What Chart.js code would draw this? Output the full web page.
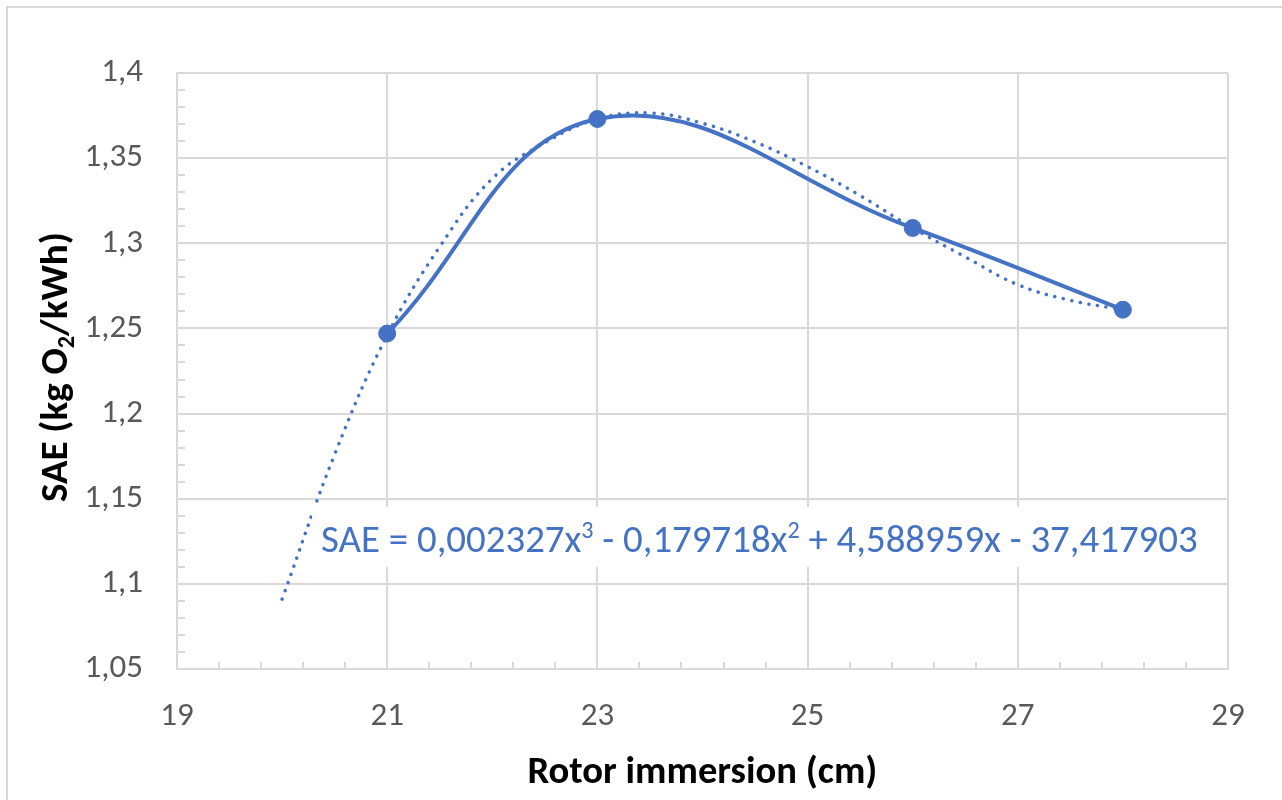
<!DOCTYPE html>
<html>
<head>
<meta charset="utf-8">
<title>SAE vs Rotor immersion</title>
<script src="https://cdn.jsdelivr.net/npm/chart.js"></script>
<style>
  html, body { margin: 0; padding: 0; background: #fff; overflow: hidden; }
  #marco { position: absolute; left: 6px; top: 6px; width: 1300px; height: 820px; border: 2px solid #d9d9d9; box-sizing: border-box; }
  #contenedor { position: absolute; left: 0; top: 0; width: 1282px; height: 800px; }
</style>
</head>
<body>
<div id="marco"></div>
<div id="contenedor"><canvas id="chart" width="1282" height="800"></canvas></div>
<script>
// Datos medidos
const inmersion = [21, 23, 26, 28];
const sae = [1.247, 1.373, 1.309, 1.261];

// Linea de tendencia (polinomica)
const tendenciaX = [20, 20.5, 21, 21.5, 22, 22.5, 23, 23.5, 24, 24.5, 25, 25.5, 26, 26.5, 27, 27.5, 28];
const tendenciaY = [1.091, 1.176, 1.246, 1.298, 1.338, 1.359, 1.373, 1.3765, 1.3705, 1.3595, 1.345, 1.328, 1.309, 1.292, 1.2757, 1.2665, 1.261];

// Ticks
const xTicks = [19, 21, 23, 25, 27, 29];
const yTicks = [1.05, 1.1, 1.15, 1.2, 1.25, 1.3, 1.35, 1.4];

const azul = "#4472C4";
const gris = "#d9d9d9";
const fuente = "Carlito, Lato, 'Open Sans', sans-serif";

function coma(v) {
  return Number(v.toFixed(2)).toString().replace(".", ",");
}

// dibuja trozos de texto (normal / sup / sub) desde x
function dibujarTrozos(ctx, trozos, x, y, size, weight) {
  let cx = x;
  trozos.forEach(([txt, tipo]) => {
    let s = size, dy = 0;
    if (tipo === "sup") { s = size * 0.62; dy = -size * 0.36; }
    if (tipo === "sub") { s = size * 0.62; dy = size * 0.18; }
    ctx.font = `${weight} ${s}px ${fuente}`;
    ctx.fillText(txt, cx, y + dy);
    cx += ctx.measureText(txt).width;
  });
}

function anchoTrozos(ctx, trozos, size, weight) {
  let w = 0;
  trozos.forEach(([txt, tipo]) => {
    const s = tipo ? size * 0.62 : size;
    ctx.font = `${weight} ${s}px ${fuente}`;
    w += ctx.measureText(txt).width;
  });
  return w;
}

// tamaño de letra para ocupar un ancho dado
function ajustar(ctx, trozos, ancho, weight) {
  const w = anchoTrozos(ctx, trozos, 30, weight);
  return 30 * ancho / w;
}

const decoracion = {
  id: "decoracion",
  beforeDatasetsDraw(chart) {
    const { ctx, chartArea, scales } = chart;
    ctx.save();
    ctx.strokeStyle = gris;
    ctx.lineWidth = 2;
    // marcas menores del eje x (cada 0,4)
    for (let v = 19; v <= 29 + 1e-9; v += 0.4) {
      const px = Math.round(scales.x.getPixelForValue(v));
      ctx.beginPath();
      ctx.moveTo(px, chartArea.bottom);
      ctx.lineTo(px, chartArea.bottom - 7);
      ctx.stroke();
    }
    // marcas menores del eje y (cada 0,01)
    for (let v = 1.05; v <= 1.4 + 1e-9; v += 0.01) {
      const py = Math.round(scales.y.getPixelForValue(v));
      ctx.beginPath();
      ctx.moveTo(chartArea.left, py);
      ctx.lineTo(chartArea.left + 8, py);
      ctx.stroke();
    }
    ctx.restore();
  },
  afterDraw(chart) {
    const { ctx, chartArea } = chart;
    ctx.save();

    // ecuacion de la tendencia
    ctx.fillStyle = "#fff";
    ctx.fillRect(312, 507, 898, 60);
    const ecuacion = [
      ["SAE = 0,002327x", ""], ["3", "sup"],
      [" - 0,179718x", ""], ["2", "sup"],
      [" + 4,588959x - 37,417903", ""]
    ];
    const se = ajustar(ctx, ecuacion, 877, "normal");
    ctx.fillStyle = azul;
    ctx.textBaseline = "alphabetic";
    ctx.textAlign = "left";
    dibujarTrozos(ctx, ecuacion, 321, 552, se, "normal");

    // titulo eje x
    ctx.fillStyle = "#000";
    const tx = [["Rotor immersion (cm)", ""]];
    const sx = ajustar(ctx, tx, 350, "bold");
    const centroX = (chartArea.left + chartArea.right) / 2;
    dibujarTrozos(ctx, tx, centroX - 175, 783, sx, "bold");

    // titulo eje y
    const ty = [["SAE (kg O", ""], ["2", "sub"], ["/kWh)", ""]];
    const sy = ajustar(ctx, ty, 270, "bold");
    ctx.translate(67, 367);
    ctx.rotate(-Math.PI / 2);
    dibujarTrozos(ctx, ty, -135, 0, sy, "bold");

    ctx.restore();
  }
};

const ctx = document.getElementById("chart").getContext("2d");

new Chart(ctx, {
  type: "scatter",
  data: {
    datasets: [
      {
        label: "SAE",
        data: inmersion.map((x, i) => ({ x: x, y: sae[i] })),
        showLine: true,
        borderColor: azul,
        borderWidth: 4,
        backgroundColor: azul,
        pointRadius: 8.5,
        pointBorderWidth: 1,
        pointBackgroundColor: azul,
        pointBorderColor: azul,
        tension: 0.4,
        order: 0
      },
      {
        label: "Poly. (SAE)",
        data: tendenciaX.map((x, i) => ({ x: x, y: tendenciaY[i] })),
        showLine: true,
        borderColor: azul,
        borderWidth: 3.5,
        borderDash: [0.1, 8.6],
        borderCapStyle: "round",
        pointRadius: 0,
        tension: 0.4,
        order: 1
      }
    ]
  },
  options: {
    responsive: false,
    animation: false,
    devicePixelRatio: 1,
    layout: { padding: { left: 0, top: 73, right: 54, bottom: 0 } },
    plugins: {
      legend: { display: false },
      tooltip: { enabled: false }
    },
    scales: {
      x: {
        type: "linear",
        min: 19,
        max: 29,
        afterBuildTicks: (s) => { s.ticks = xTicks.map(v => ({ value: v })); },
        afterFit: (s) => { s.height = 131; },
        grid: { color: gris, lineWidth: 2, drawTicks: false },
        border: { color: gris, width: 2 },
        ticks: {
          color: "#595959",
          padding: 28,
          font: { family: fuente, size: 33 },
          callback: (v) => coma(v)
        }
      },
      y: {
        type: "linear",
        min: 1.05,
        max: 1.4,
        afterBuildTicks: (s) => { s.ticks = yTicks.map(v => ({ value: v })); },
        afterFit: (s) => { s.width = 177; },
        grid: { color: gris, lineWidth: 2, drawTicks: false },
        border: { color: gris, width: 2 },
        ticks: {
          color: "#595959",
          padding: 34,
          font: { family: fuente, size: 33 },
          callback: (v) => coma(v)
        }
      }
    }
  },
  plugins: [decoracion]
});
</script>
</body>
</html>
